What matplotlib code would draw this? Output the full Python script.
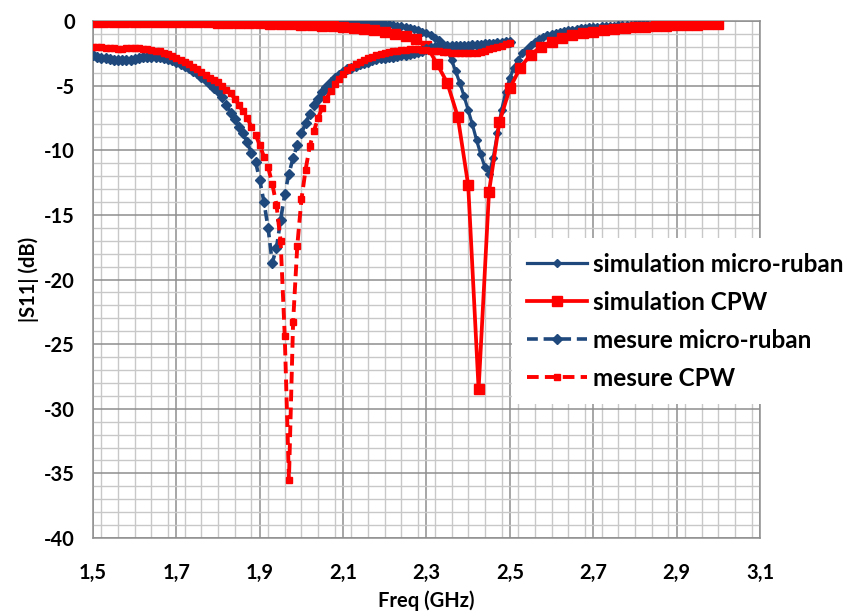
import numpy as np
import matplotlib
matplotlib.use("Agg")
import matplotlib.pyplot as plt
from matplotlib.ticker import FixedLocator, MultipleLocator

plt.rcParams['font.family'] = ['Lato', 'DejaVu Sans']

# ---------------- data ----------------
# simulation micro-ruban: 1.50 .. 3.00 GHz, step 0.01
f_sim_mr_start, f_sim_mr_step = 1.50, 0.01
sim_mr = [
    0.00, 0.00, 0.00, 0.00, -0.01, -0.01, -0.01, -0.01, -0.01, -0.01,
    -0.01, -0.02, -0.02, -0.02, -0.02, -0.02, -0.02, -0.02, -0.02, -0.02,
    -0.02, -0.02, -0.02, -0.02, -0.02, -0.02, -0.02, -0.02, -0.01, -0.01,
    -0.01, -0.01, 0.00, 0.00, 0.00, 0.01, 0.01, 0.01, 0.02, 0.02,
    0.02, 0.03, 0.03, 0.03, 0.04, 0.04, 0.04, 0.05, 0.05, 0.05,
    0.05, 0.05, 0.05, 0.05, 0.05, 0.05, 0.05, 0.04, 0.04, 0.03,
    0.02, 0.01, 0.00, -0.02, -0.04, -0.06, -0.08, -0.11, -0.14, -0.17,
    -0.20, -0.25, -0.30, -0.36, -0.42, -0.49, -0.56, -0.64, -0.73, -0.84,
    -0.96, -1.10, -1.28, -1.50, -1.80, -2.30, -3.00, -3.90, -4.80, -5.80,
    -6.90, -8.00, -9.20, -10.30, -11.30, -11.80, -10.60, -8.70, -6.90, -5.50,
    -4.40, -3.60, -3.00, -2.50, -2.15, -1.85, -1.60, -1.40, -1.25, -1.12,
    -1.00, -0.92, -0.85, -0.78, -0.72, -0.67, -0.62, -0.58, -0.54, -0.50,
    -0.47, -0.44, -0.41, -0.39, -0.37, -0.35, -0.33, -0.31, -0.29, -0.28,
    -0.26, -0.25, -0.24, -0.22, -0.21, -0.20, -0.19, -0.18, -0.17, -0.16,
    -0.15, -0.15, -0.14, -0.14, -0.13, -0.12, -0.12, -0.11, -0.11, -0.10,
    -0.10,
]

# simulation CPW: 1.500 .. 3.000 GHz, step 0.025
f_sim_cpw_start, f_sim_cpw_step = 1.50, 0.025
sim_cpw = [
    -0.05, -0.05, -0.05, -0.06, -0.06, -0.07, -0.07, -0.08, -0.08, -0.09,
    -0.10, -0.11, -0.12, -0.13, -0.15, -0.16, -0.18, -0.20, -0.22, -0.25,
    -0.28, -0.32, -0.36, -0.41, -0.47, -0.54, -0.62, -0.72, -0.84, -0.98,
    -1.15, -1.40, -1.90, -3.30, -4.80, -7.40, -12.70, -28.50, -13.20, -7.80,
    -5.20, -3.60, -2.60, -2.00, -1.60, -1.30, -1.10, -0.95, -0.82, -0.72,
    -0.63, -0.56, -0.50, -0.45, -0.41, -0.37, -0.34, -0.31, -0.28, -0.26,
    -0.24,
]

# measurements: 1.50 .. 2.50 GHz, step 0.01
f_meas_start, f_meas_step = 1.50, 0.01
meas_mr = [
    -2.65, -2.75, -2.85, -2.90, -2.95, -3.00, -3.05, -3.05, -3.05, -3.00,
    -2.95, -2.90, -2.80, -2.75, -2.75, -2.75, -2.80, -2.85, -2.95, -3.05,
    -3.20, -3.35, -3.50, -3.65, -3.85, -4.05, -4.30, -4.60, -4.90, -5.15,
    -5.45, -5.90, -6.50, -7.10, -7.60, -8.20, -8.70, -9.40, -10.20, -10.90,
    -12.30, -14.00, -16.00, -18.70, -17.60, -15.40, -13.40, -11.80, -10.60, -9.60,
    -8.70, -7.90, -7.20, -6.50, -6.00, -5.50, -5.10, -4.70, -4.40, -4.15,
    -3.95, -3.75, -3.60, -3.45, -3.35, -3.25, -3.15, -3.05, -2.95, -2.90,
    -2.85, -2.80, -2.75, -2.70, -2.65, -2.60, -2.55, -2.50, -2.40, -2.30,
    -2.20, -2.10, -2.00, -1.95, -1.95, -1.95, -1.95, -1.90, -1.90, -1.90,
    -1.90, -1.85, -1.85, -1.85, -1.80, -1.80, -1.75, -1.70, -1.70, -1.65,
    -1.60,
]
meas_cpw = [
    -2.00, -2.05, -2.05, -2.10, -2.10, -2.10, -2.15, -2.15, -2.10, -2.10,
    -2.10, -2.10, -2.15, -2.20, -2.25, -2.30, -2.35, -2.45, -2.55, -2.70,
    -2.85, -3.00, -3.15, -3.35, -3.55, -3.75, -3.95, -4.15, -4.40, -4.55,
    -4.70, -5.00, -5.30, -5.60, -6.00, -6.50, -7.00, -7.50, -8.20, -8.80,
    -9.60, -10.50, -11.30, -12.60, -14.20, -17.00, -24.40, -35.50, -23.30, -17.40,
    -13.80, -11.50, -9.70, -8.50, -7.50, -6.70, -6.00, -5.40, -4.90, -4.45,
    -4.10, -3.80, -3.55, -3.35, -3.15, -3.00, -2.85, -2.75, -2.65, -2.55,
    -2.45, -2.40, -2.35, -2.30, -2.25, -2.25, -2.20, -2.20, -2.20, -2.25,
    -2.25, -2.30, -2.30, -2.35, -2.40, -2.40, -2.45, -2.45, -2.50, -2.50,
    -2.50, -2.50, -2.45, -2.40, -2.30, -2.20, -2.10, -2.00, -1.90, -1.80,
    -1.70,
]

labels = ["simulation micro-ruban", "simulation CPW",
          "mesure micro-ruban", "mesure CPW"]
xtick_values = [1.5, 1.7, 1.9, 2.1, 2.3, 2.5, 2.7, 2.9, 3.1]
ytick_values = [0, -5, -10, -15, -20, -25, -30, -35, -40]

f_sim_mr = f_sim_mr_start + f_sim_mr_step * np.arange(len(sim_mr))
f_sim_cpw = f_sim_cpw_start + f_sim_cpw_step * np.arange(len(sim_cpw))
f_meas = f_meas_start + f_meas_step * np.arange(len(meas_mr))

# ---------------- plot ----------------
BLUE = '#1F497D'
RED = '#FF0000'

fig = plt.figure(figsize=(8.53, 6.12), dpi=100)
ax = fig.add_axes([93 / 853, 1 - 538 / 612, (760 - 93) / 853, (538 - 21) / 612])

ax.plot(f_sim_mr, sim_mr, color=BLUE, lw=2.3, marker='D', ms=3.8,
        mec=BLUE, mfc=BLUE, label=labels[0], zorder=3)
ax.plot(f_sim_cpw, sim_cpw, color=RED, lw=2.7, marker='s', ms=7,
        mec=RED, mfc=RED, label=labels[1], zorder=4)
ax.plot(f_meas, meas_mr, color=BLUE, lw=2.6, ls=(0, (3, 1.6)), marker='D', ms=4.6,
        mec=BLUE, mfc=BLUE, label=labels[2], zorder=5)
ax.plot(f_meas, meas_cpw, color=RED, lw=2.8, ls=(0, (3, 1.6)), marker='s', ms=4.2,
        mec=RED, mfc=RED, label=labels[3], zorder=6)

ax.set_xlim(1.5, 3.1)
ax.set_ylim(-40, 0)
ax.xaxis.set_major_locator(FixedLocator(xtick_values))
ax.xaxis.set_minor_locator(MultipleLocator(0.04))
ax.yaxis.set_major_locator(FixedLocator(ytick_values))
ax.yaxis.set_minor_locator(MultipleLocator(1))
ax.set_xticklabels([f"{v:.1f}".replace('.', ',') for v in xtick_values])
ax.set_yticklabels([f"{v:d}" for v in ytick_values])

ax.grid(which='major', color='#8E8E8E', lw=1.1, zorder=0)
ax.grid(which='minor', color='#C8C8C8', lw=1.0, zorder=0)
ax.set_axisbelow(True)
for s in ax.spines.values():
    s.set_color('#8E8E8E')
    s.set_linewidth(1.1)

ax.tick_params(which='both', length=0)
ax.tick_params(axis='x', pad=18, labelsize=14.5)
ax.tick_params(axis='y', pad=13, labelsize=14.5)
for t in ax.get_xticklabels() + ax.get_yticklabels():
    t.set_fontweight('bold')

ax.set_xlabel("Freq (GHz)", fontsize=14.5, fontweight='bold', labelpad=5)
ax.set_ylabel("|S11| (dB)", fontsize=14.5, fontweight='bold', labelpad=4)

leg = fig.legend(loc='upper left', bbox_to_anchor=(512 / 853, 1 - 238 / 612),
                 bbox_transform=fig.transFigure, frameon=True, fancybox=False,
                 edgecolor='none', facecolor='white', framealpha=1,
                 prop={'weight': 'bold', 'size': 17.5}, handlelength=2.5,
                 handletextpad=0.25, labelspacing=0.62, borderpad=0.6,
                 borderaxespad=0)

fig.savefig("out.png", dpi=100)
